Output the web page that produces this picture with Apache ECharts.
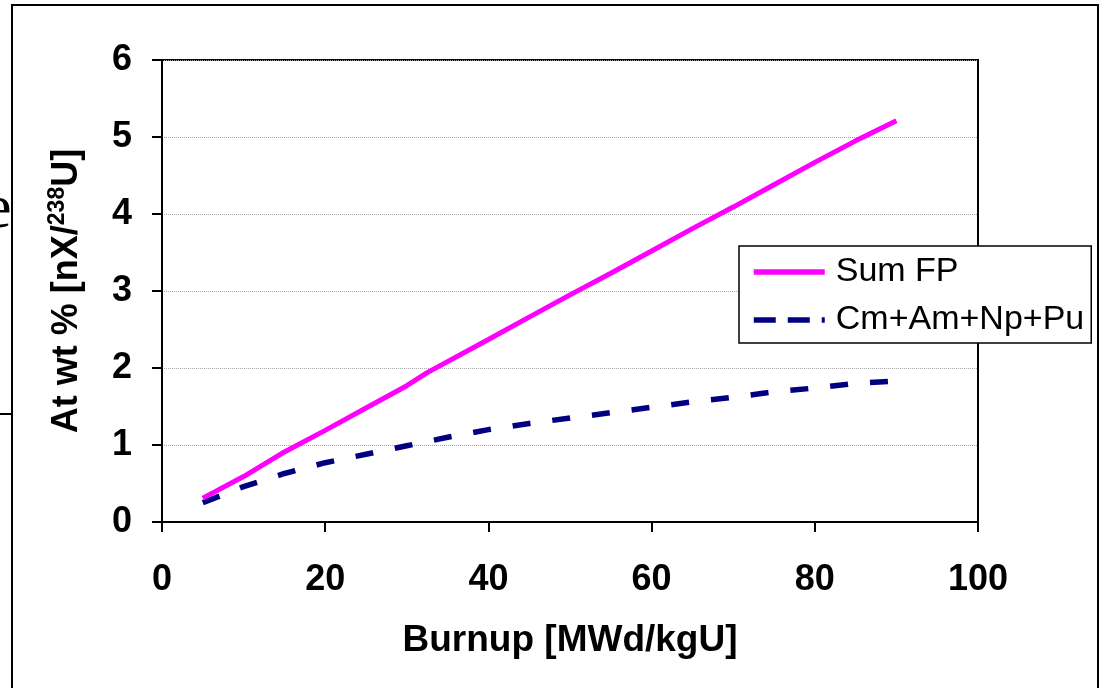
<!DOCTYPE html>
<html>
<head>
<meta charset="utf-8">
<script src="https://cdn.jsdelivr.net/npm/echarts@6/dist/echarts.min.js"></script>
<style>
html,body{margin:0;padding:0;background:#fff;}
#c{width:1101px;height:688px;}
</style>
</head>
<body>
<div id="c"></div>
<script>
const seriesNames = ['Sum FP', 'Cm+Am+Np+Pu'];
const burnupFP = [5, 10, 15, 20, 25, 30, 32.5, 40, 45, 50, 55, 60, 65, 70, 75, 80, 85, 90];
const sumFP   = [0.31, 0.59, 0.91, 1.19, 1.48, 1.77, 1.94, 2.37, 2.66, 2.95, 3.23, 3.52, 3.81, 4.09, 4.38, 4.67, 4.95, 5.21];
const burnupAct = [5, 10, 15, 20, 25, 30, 35, 40, 45, 50, 55, 60, 65, 70, 75, 80, 85, 90];
const actinides = [0.25, 0.46, 0.63, 0.77, 0.88, 0.99, 1.10, 1.20, 1.28, 1.35, 1.42, 1.49, 1.56, 1.62, 1.69, 1.74, 1.80, 1.83];
const xTitle = 'Burnup [MWd/kgU]';
const yTitleMain = 'At wt % [nX/';
const yTitleSup = '238';
const yTitleEnd = 'U]';

const pair = (xs, ys) => xs.map((x, i) => [x, ys[i]]);
const FONT = '"Liberation Sans", Arial, sans-serif';

const chart = echarts.init(document.getElementById('c'), null, {renderer: 'canvas'});
chart.setOption({
  animation: false,
  backgroundColor: '#fff',
  grid: {left: 162, right: 123, top: 60, bottom: 166, show: true, borderColor: '#000', borderWidth: 2, backgroundColor: 'transparent'},
  xAxis: {
    type: 'value', min: 0, max: 100, interval: 20,
    name: xTitle, nameLocation: 'middle', nameGap: 100,
    nameTextStyle: {fontFamily: FONT, fontWeight: 'bold', fontSize: 37, color: '#000'},
    axisLine: {show: true, onZero: false, lineStyle: {color: '#000', width: 2}},
    axisTick: {show: true, inside: false, length: 10, lineStyle: {color: '#000', width: 2}},
    axisLabel: {fontFamily: FONT, fontWeight: 'bold', fontSize: 36, color: '#000', margin: 40},
    splitLine: {show: false}
  },
  yAxis: {
    type: 'value', min: 0, max: 6, interval: 1,
    name: yTitleMain + '{sup|' + yTitleSup + '}' + yTitleEnd,
    nameLocation: 'middle', nameGap: 74, nameRotate: 90,
    nameTextStyle: {fontFamily: FONT, fontWeight: 'bold', fontSize: 36, color: '#000', lineHeight: 42,
      rich: {sup: {fontFamily: FONT, fontWeight: 'bold', fontSize: 23, color: '#000', verticalAlign: 'top', lineHeight: 24}}},
    axisLine: {show: true, lineStyle: {color: '#000', width: 2}},
    axisTick: {show: true, inside: false, length: 10, lineStyle: {color: '#000', width: 2}},
    axisLabel: {fontFamily: FONT, fontWeight: 'bold', fontSize: 36, color: '#000', margin: 30},
    splitLine: {show: true, lineStyle: {color: '#a6a6a6', width: 1, type: 'dotted'}}
  },
  legend: {
    orient: 'vertical', left: 739, top: 246,
    padding: [7, 7, 4, 12], itemGap: 10,
    itemWidth: 71, itemHeight: 14,
    backgroundColor: '#fff', borderColor: '#000', borderWidth: 1.5,
    itemStyle: {opacity: 0},
    lineStyle: {width: 5.5},
    textStyle: {fontFamily: FONT, fontSize: 34, color: '#000', lineHeight: 38, padding: [0, 0, 0, 6]},
    data: [
      {name: seriesNames[0]},
      {name: seriesNames[1], lineStyle: {width: 5.5, type: [22, 12]}}
    ]
  },
  series: [
    {name: seriesNames[0], type: 'line', data: pair(burnupFP, sumFP), showSymbol: false, symbol: 'none',
     lineStyle: {color: '#ff00ff', width: 5}, itemStyle: {color: '#ff00ff'}, z: 3},
    {name: seriesNames[1], type: 'line', data: pair(burnupAct, actinides), showSymbol: false, symbol: 'none',
     lineStyle: {color: '#000080', width: 5.5, type: [18, 22], cap: 'butt'}, itemStyle: {color: '#000080'}, z: 2}
  ],
  graphic: [
    {type: 'rect', shape: {x: 12, y: 5, width: 1086, height: 720}, style: {fill: 'none', stroke: '#000', lineWidth: 2}, silent: true},
    {type: 'line', shape: {x1: 0, y1: 414, x2: 12, y2: 414}, style: {stroke: '#000', lineWidth: 2}, silent: true},
    {type: 'text', left: -16, top: 180, style: {text: 'e', font: '62px "Liberation Serif", serif', fill: '#000'}, silent: true}
  ]
});
</script>
</body>
</html>
